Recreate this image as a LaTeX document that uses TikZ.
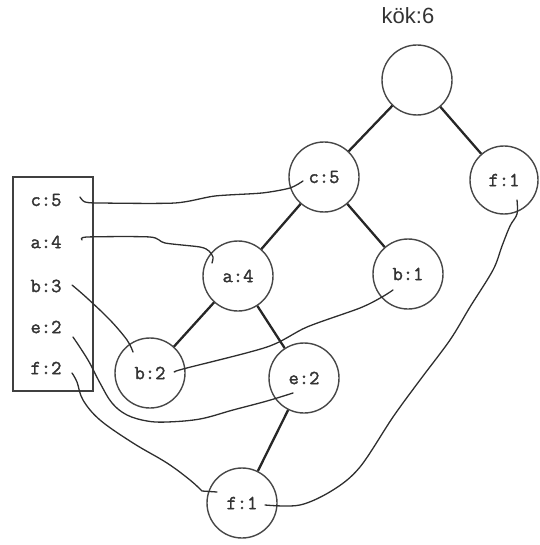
\documentclass[tikz,border=0pt]{standalone}
\usepackage{fontspec}
\newfontfamily\titlesans{Liberation Sans}
\newfontfamily\keyfont[FakeBold=1.6]{Latin Modern Mono}
\usetikzlibrary{calc}
\begin{document}
\begin{tikzpicture}[x=1pt,y=-1pt,
  nodecirc/.style={circle, draw=black!72, line width=1.4pt, minimum size=70pt,
    inner sep=0pt, font=\keyfont\fontsize{20}{24}\selectfont, text=black!80},
  treeedge/.style={line width=2.3pt, draw=black!85},
  wire/.style={line width=1.3pt, draw=black!82, line cap=round, line join=round},
  listlabel/.style={font=\keyfont\fontsize{20}{24}\selectfont, inner sep=0pt, text=black!80},
  listbox/.style={draw=black!75, line width=1.8pt}]
\useasboundingbox (0,0) rectangle (539,545);

% root caption
\node[font=\titlesans\fontsize{22}{24}\selectfont, text=black!80] (title) at (408,16) {kök:6};

% Huffman tree nodes
\node[nodecirc] (root) at (417,80) {};
\node[nodecirc] (c5)   at (324,177) {c:5};
\node[nodecirc, minimum size=68pt] (f1r) at (504,180) {f:1};
\node[nodecirc] (a4)   at (238,276) {a:4};
\node[nodecirc] (b1)   at (408,274) {b:1};
\node[nodecirc] (b2)   at (150,373) {b:2};
\node[nodecirc] (e2)   at (304,378) {e:2};
\node[nodecirc] (f1b)  at (242,503) {f:1};

% tree edges
\draw[treeedge] (root) -- (c5);
\draw[treeedge] (root) -- (f1r);
\draw[treeedge] (c5) -- (a4);
\draw[treeedge] (c5) -- (b1);
\draw[treeedge] (a4) -- (b2);
\draw[treeedge] (a4) -- (e2);
\draw[treeedge] (e2) -- (f1b);

% frequency list
\draw[listbox] (13,177) rectangle (93,391);
\node[listlabel] (lc) at (46,200) {c:5};
\node[listlabel] (la) at (46,242) {a:4};
\node[listlabel] (lb) at (46,286) {b:3};
\node[listlabel] (le) at (46,327) {e:2};
\node[listlabel] (lf) at (46,368) {f:2};

% wire end points
\coordinate (lcS) at ($(lc)+(34,-3)$);
\coordinate (laS) at ($(la)+(36,-2)$);
\coordinate (lbS) at ($(lb)+(26,-1)$);
\coordinate (leS) at ($(le)+(27,10)$);
\coordinate (lfS) at ($(lf)+(26,5)$);
\coordinate (c5E) at ($(c5)+(-21,4)$);
\coordinate (a4E) at ($(a4)+(-26,-13)$);
\coordinate (b2E) at ($(b2)+(-17,-21)$);
\coordinate (e2E) at ($(e2)+(-11,15)$);
\coordinate (f1bE) at ($(f1b)+(-25,-11)$);
\coordinate (b1S) at ($(b1)+(-15,16)$);
\coordinate (b2F) at ($(b2)+(25,-1)$);
\coordinate (f1rS) at ($(f1r)+(13,20)$);
\coordinate (f1bF) at ($(f1b)+(23,2)$);

% list entries wired to the tree
\draw[wire] plot[smooth, tension=0.45] coordinates {(lcS) (85,202) (100,203) (175,203) (215,196) (262,193) (290,188) (c5E)};
\draw[wire] plot[smooth, tension=0.45] coordinates {(laS) (87,237) (150,237) (165,243) (200,247) (209,251) (213,257) (a4E)};
\draw[wire] plot[smooth, tension=0.6] coordinates {(lbS) (87,298) (110,320) (127,340) (b2E)};
\draw[wire] plot[smooth, tension=0.6] coordinates {(leS) (88,360) (100,383) (112,403) (127,415) (147,421) (167,422) (200,419) (233,410) (267,401) (e2E)};
\draw[wire] plot[smooth, tension=0.6] coordinates {(lfS) (77,382) (83,400) (100,420) (133,443) (167,463) (190,480) (202,491)} -- (f1bE);

% cross links between tree nodes
\draw[wire] plot[smooth, tension=0.5] coordinates {(b1S) (382,297) (360,308) (307,327) (267,347) (183,369) (b2F)};
\draw[wire] plot[smooth, tension=0.55] coordinates {(f1rS) (517,214) (510,226) (502,246) (493,270) (470,307) (450,340) (420,380) (393,417) (360,467) (333,490) (300,505) (f1bF)};
\end{tikzpicture}
\end{document}
